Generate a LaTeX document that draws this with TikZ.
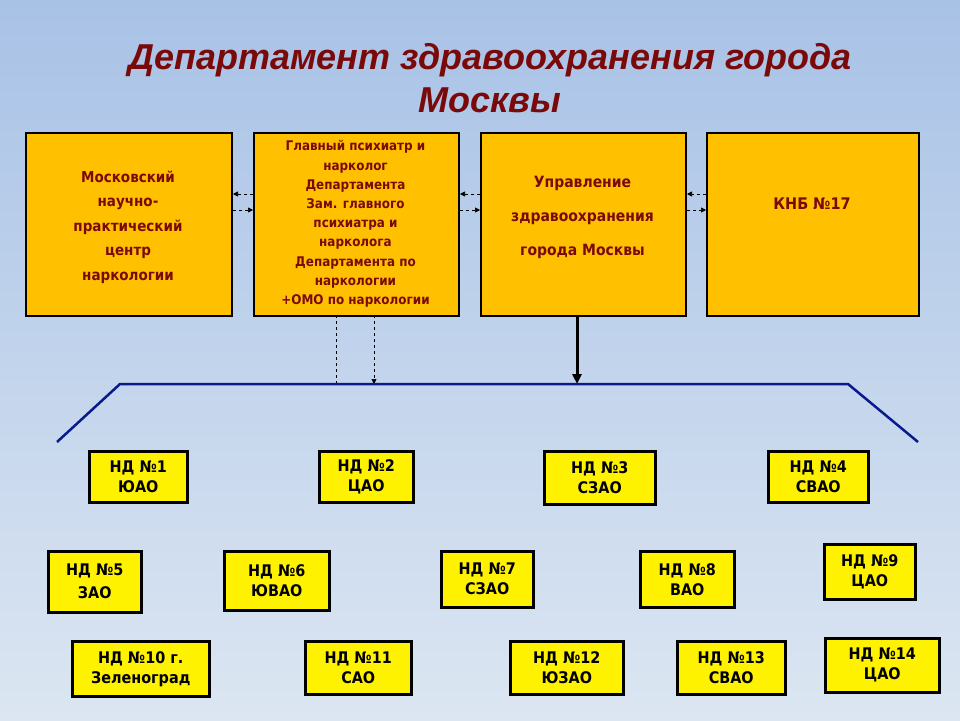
\documentclass[tikz,border=0pt]{standalone}
\usepackage{fontspec}
\setmainfont{Liberation Sans}
\newfontfamily\tah{DejaVu Sans Condensed}
\usetikzlibrary{arrows.meta}
\definecolor{bgtop}{HTML}{A8C2E6}
\definecolor{bgbot}{HTML}{DCE6F2}
\definecolor{org}{HTML}{FFC000}
\definecolor{dred}{HTML}{7A0A0A}
\definecolor{navy}{HTML}{0A1A8C}
\tikzset{
 topbox/.style={draw=black,line width=2pt,fill=org,inner sep=0pt,anchor=north west},
 toptext/.style={text=dred,align=center},
 ndbox/.style={draw=black,line width=2.5pt,fill=yellow,inner sep=0pt,align=center,text=black,font=\tah\bfseries\fontsize{16}{20}\selectfont,anchor=north west},
 dasharrow/.style={dashed,line width=0.7pt,-{Triangle[length=5pt,width=5pt]}},
}
\begin{document}
\begin{tikzpicture}[x=1pt,y=-1pt]
\shade[top color=bgtop,bottom color=bgbot] (0,0) rectangle (960,720);
\useasboundingbox (0,0) rectangle (960,720);
\node (title) at (490,78) [align=center,text=dred,font=\bfseries\itshape\fontsize{36}{43}\selectfont] {Департамент здравоохранения города\\Москвы};
\node[topbox,minimum width=206,minimum height=183] (b1) at (25,132) {};
\node[toptext,font=\tah\bfseries\fontsize{15}{24.5}\selectfont] at (128,227) {Московский\\научно-\\практический\\центр\\наркологии};
\node[topbox,minimum width=205,minimum height=183] (b2) at (253,132) {};
\node[toptext,font=\tah\bfseries\fontsize{13.3}{19.2}\selectfont] at (355.5,224) {Главный психиатр и\\нарколог\\Департамента\\Зам. главного\\психиатра и\\нарколога\\Департамента по\\наркологии\\+ОМО по наркологии};
\node[topbox,minimum width=205,minimum height=183] (b3) at (480,132) {};
\node[toptext,font=\tah\bfseries\fontsize{15.5}{34}\selectfont] at (582.5,217) {Управление\\здравоохранения\\города Москвы};
\node[topbox,minimum width=212,minimum height=183] (b4) at (706,132) {};
\node[toptext,font=\tah\bfseries\fontsize{16}{20}\selectfont] at (812,204) {КНБ №17};
% dashed links
\foreach \a/\b in {b1/b2,b2/b3,b3/b4}{
 \draw[dasharrow] ([yshift=-62]\b.north west) -- ([yshift=-62]\a.north east);
 \draw[dasharrow] ([yshift=-78]\a.north east) -- ([yshift=-78]\b.north west);
}
\coordinate (d1) at (336,384);
\coordinate (d2) at (374,384);
\draw[dashed,line width=0.7pt] (336,315) -- (d1);
\draw[dasharrow] (374,315) -- (d2);
\coordinate (bar) at (577,384);
\draw[line width=3pt,-{Triangle[length=10pt,width=9pt]}] (577,315) -- (bar);
\draw[navy,line width=2.5pt] (57,442) -- (120,384) -- (848,384) -- (918,442);
% ND boxes
\foreach \n/\x/\y/\w/\h/\t in {
 n1/88/450/98/51/{НД №1\\ЮАО},
 n2/318/450/94/51/{НД №2\\ЦАО},
 n3/543/450/111/53/{НД №3\\СЗАО},
 n4/767/450/100/51/{НД №4\\СВАО},
 n5/47/550/93/61/{НД №5\\[3pt]ЗАО},
 n6/223/550/105/59/{НД №6\\ЮВАО},
 n7/440/550/92/56/{НД №7\\СЗАО},
 n8/639/550/94/56/{НД №8\\ВАО},
 n9/823/543/91/55/{НД №9\\ЦАО},
 n10/71/640/137/55/{НД №10 г.\\Зеленоград},
 n11/304/640/106/53/{НД №11\\САО},
 n12/509/640/113/53/{НД №12\\ЮЗАО},
 n13/676/640/108/53/{НД №13\\СВАО},
 n14/824/637/114/54/{НД №14\\ЦАО}}
 \node[ndbox,minimum width=\w,minimum height=\h] (\n) at (\x,\y) {\t};
\end{tikzpicture}
\end{document}
